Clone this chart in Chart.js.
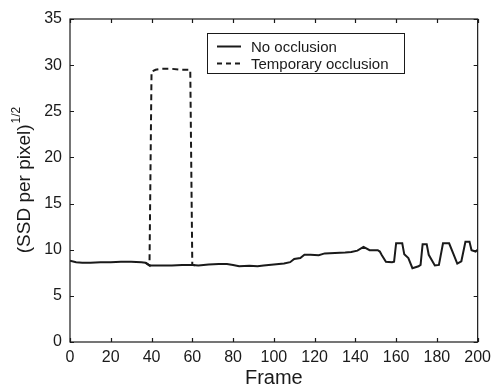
<!DOCTYPE html>
<html><head><meta charset="utf-8">
<script src="https://cdn.jsdelivr.net/npm/chart.js@4/dist/chart.umd.min.js"></script>
<style>html,body{margin:0;padding:0;background:#fff}#wrap{width:497px;height:388px}</style>
</head><body><div id="wrap"><canvas id="c" width="497" height="388"></canvas></div>
<script>
// ---- data ----
const frames = [0,3,6,10,15,20,25,30,35,37,39,45,50,55,60,63,68,73,77,80,83,88,92,95,100,105,108,110,113,115,118,122,125,130,135,138,141,144,147,151,152,153,155,158,159,160,163,164,166,168,171,172,173,175,176,179,181,183,186,188,190,192,194,196,197,199,200];
const noOcclusion = [8.8,8.65,8.6,8.6,8.65,8.65,8.7,8.7,8.65,8.6,8.3,8.3,8.3,8.35,8.35,8.3,8.4,8.45,8.45,8.35,8.2,8.25,8.2,8.3,8.4,8.5,8.65,9.0,9.1,9.45,9.45,9.4,9.6,9.65,9.7,9.75,9.9,10.3,9.95,9.95,9.8,9.4,8.7,8.65,8.7,10.7,10.7,9.5,9.1,8.0,8.2,8.35,10.6,10.6,9.45,8.3,8.35,10.7,10.7,9.6,8.5,8.75,10.85,10.85,9.95,9.8,10.0];
const occFrames = [37,39,40,42,45,50,55,59,60,63];
const occValues = [8.6,8.3,29.3,29.5,29.6,29.6,29.5,29.5,8.35,8.3];
const xTicks = [0,20,40,60,80,100,120,140,160,180,200];
const yTicks = [0,5,10,15,20,25,30,35];
const seriesLabels = ['No occlusion','Temporary occlusion'];
const xTitle = 'Frame';
const yTitle = '(SSD per pixel)';
const yTitleSup = '1/2';

const INK = '#1a1a1a';
const FONT = '"Liberation Sans", Arial, sans-serif';

const toPts = (xs, ys) => xs.map((x,i)=>({x:x, y:ys[i]}));

const framePlugin = {
  id:'framePlugin',
  afterDraw(chart){
    const ctx = chart.ctx, a = chart.chartArea;
    const xs = chart.scales.x, ys = chart.scales.y;
    ctx.save();
    ctx.strokeStyle = INK; ctx.lineWidth = 1.2;
    ctx.strokeRect(a.left, a.top, a.right-a.left, a.bottom-a.top);
    const L = 4;
    ctx.beginPath();
    xTicks.forEach(v=>{ const p = Math.round(xs.getPixelForValue(v))+0.5;
      ctx.moveTo(p,a.bottom); ctx.lineTo(p,a.bottom-L);
      ctx.moveTo(p,a.top); ctx.lineTo(p,a.top+L); });
    yTicks.forEach(v=>{ const p = Math.round(ys.getPixelForValue(v))+0.5;
      ctx.moveTo(a.left,p); ctx.lineTo(a.left+L,p);
      ctx.moveTo(a.right,p); ctx.lineTo(a.right-L,p); });
    ctx.stroke();
    // axis titles
    ctx.fillStyle = INK;
    ctx.font = '20px ' + FONT;
    ctx.textAlign = 'center'; ctx.textBaseline = 'alphabetic';
    ctx.fillText(xTitle, (a.left+a.right)/2, 384);
    ctx.save();
    ctx.translate(30, 180);
    ctx.rotate(-Math.PI/2);
    ctx.font = '19px ' + FONT;
    const w1 = ctx.measureText(yTitle).width;
    ctx.font = '12px ' + FONT;
    const w2 = ctx.measureText(yTitleSup).width;
    const start = -(w1+w2+1)/2;
    ctx.textAlign = 'left';
    ctx.font = '19px ' + FONT;
    ctx.fillText(yTitle, start, 0);
    ctx.font = '12px ' + FONT;
    ctx.fillText(yTitleSup, start + w1 + 1, -10);
    ctx.restore();
    // legend
    const bx = 207, by = 33, bw = 197, bh = 40;
    ctx.fillStyle = '#fff';
    ctx.fillRect(bx, by, bw, bh);
    ctx.strokeStyle = INK; ctx.lineWidth = 1;
    ctx.strokeRect(bx+0.5, by+0.5, bw, bh);
    const rows = [46.5, 63.5];
    ctx.lineWidth = 2;
    chart.data.datasets.forEach((ds,i)=>{
      ctx.setLineDash(ds.borderDash ? [5,4] : []);
      ctx.beginPath(); ctx.moveTo(217, rows[i]); ctx.lineTo(241, rows[i]); ctx.stroke();
      ctx.setLineDash([]);
      ctx.fillStyle = INK; ctx.font = '15px ' + FONT;
      ctx.textAlign = 'left'; ctx.textBaseline = 'middle';
      ctx.fillText(ds.label, 251, rows[i]+1);
    });
    ctx.restore();
  }
};

new Chart(document.getElementById('c'), {
  type:'line',
  data:{ datasets:[
    { label: seriesLabels[0], data: toPts(frames, noOcclusion), borderColor: INK, borderWidth: 2, pointRadius: 0, tension: 0, fill:false },
    { label: seriesLabels[1], data: toPts(occFrames, occValues), borderColor: INK, borderWidth: 2, borderDash:[6,4], pointRadius: 0, tension: 0, fill:false }
  ]},
  options:{
    responsive:false, animation:false, devicePixelRatio:1,
    layout:{ padding:{ left:0, top:19, right:17, bottom:0 } },
    plugins:{ legend:{display:false}, tooltip:{enabled:false} },
    scales:{
      x:{ type:'linear', min:0, max:200,
          afterBuildTicks: s => { s.ticks = xTicks.map(v=>({value:v})); },
          afterFit: s => { s.height = 46; },
          grid:{ display:false, drawTicks:false }, border:{ display:false },
          ticks:{ color: INK, font:{ family: FONT, size:16 }, padding:6, maxRotation:0, autoSkip:false } },
      y:{ type:'linear', min:0, max:35,
          afterBuildTicks: s => { s.ticks = yTicks.map(v=>({value:v})); },
          afterFit: s => { s.width = 70; },
          grid:{ display:false, drawTicks:false }, border:{ display:false },
          ticks:{ color: INK, font:{ family: FONT, size:16 }, padding:8, autoSkip:false } }
    }
  },
  plugins:[framePlugin]
});
</script></body></html>
